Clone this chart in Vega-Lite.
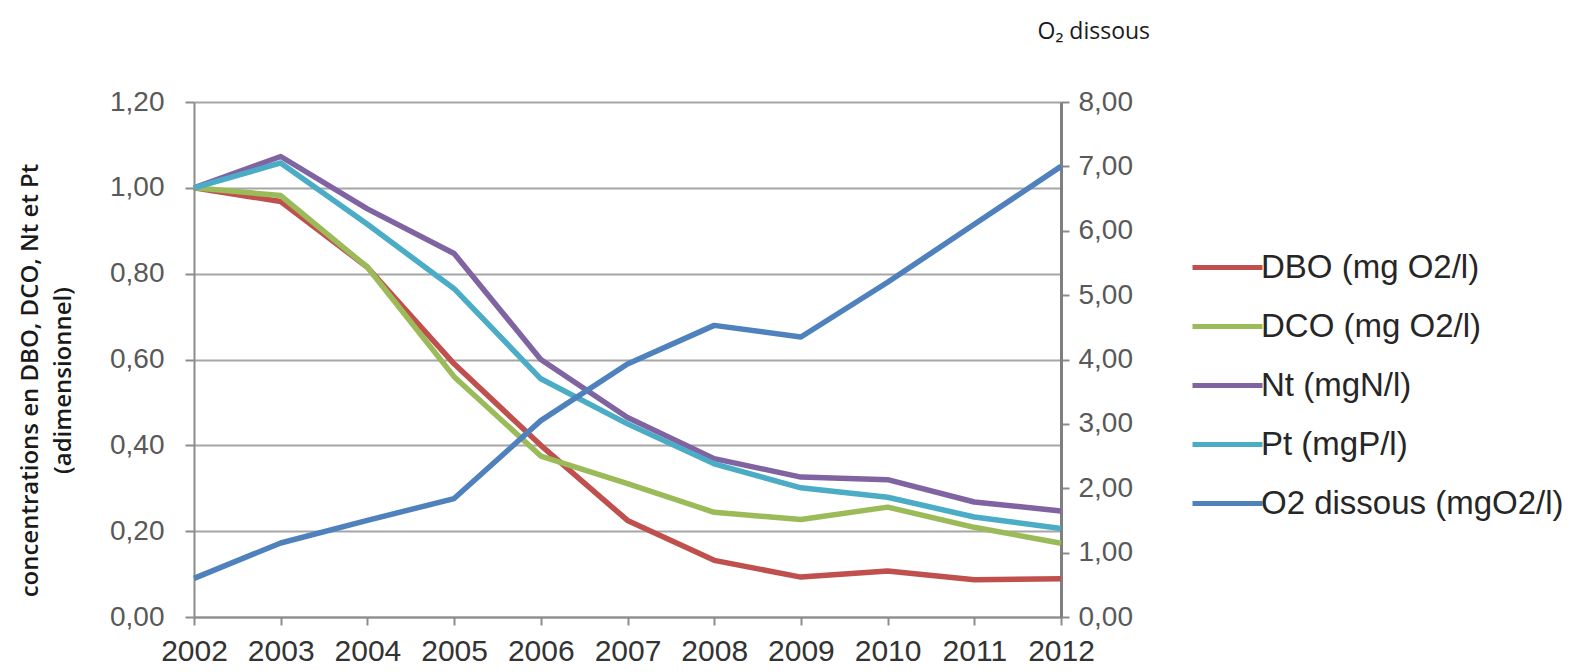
{
  "$schema": "https://vega.github.io/schema/vega-lite/v6.json",
  "width": 867,
  "height": 515,
  "autosize": {"type": "none"},
  "padding": {"left": 194, "top": 102, "right": 519, "bottom": 55},
  "background": "white",
  "config": {"view": {"stroke": null}},
  "data": {
    "values": [
      {"year": 2002, "series": "DBO (mg O2/l)", "value": 1.0},
      {"year": 2003, "series": "DBO (mg O2/l)", "value": 0.968},
      {"year": 2004, "series": "DBO (mg O2/l)", "value": 0.815},
      {"year": 2005, "series": "DBO (mg O2/l)", "value": 0.59},
      {"year": 2006, "series": "DBO (mg O2/l)", "value": 0.40},
      {"year": 2007, "series": "DBO (mg O2/l)", "value": 0.225},
      {"year": 2008, "series": "DBO (mg O2/l)", "value": 0.132},
      {"year": 2009, "series": "DBO (mg O2/l)", "value": 0.093},
      {"year": 2010, "series": "DBO (mg O2/l)", "value": 0.107},
      {"year": 2011, "series": "DBO (mg O2/l)", "value": 0.087},
      {"year": 2012, "series": "DBO (mg O2/l)", "value": 0.089},
      {"year": 2002, "series": "DCO (mg O2/l)", "value": 1.0},
      {"year": 2003, "series": "DCO (mg O2/l)", "value": 0.982},
      {"year": 2004, "series": "DCO (mg O2/l)", "value": 0.815},
      {"year": 2005, "series": "DCO (mg O2/l)", "value": 0.56},
      {"year": 2006, "series": "DCO (mg O2/l)", "value": 0.375},
      {"year": 2007, "series": "DCO (mg O2/l)", "value": 0.311},
      {"year": 2008, "series": "DCO (mg O2/l)", "value": 0.244},
      {"year": 2009, "series": "DCO (mg O2/l)", "value": 0.227},
      {"year": 2010, "series": "DCO (mg O2/l)", "value": 0.256},
      {"year": 2011, "series": "DCO (mg O2/l)", "value": 0.209},
      {"year": 2012, "series": "DCO (mg O2/l)", "value": 0.172},
      {"year": 2002, "series": "Nt (mgN/l)", "value": 1.0},
      {"year": 2003, "series": "Nt (mgN/l)", "value": 1.073},
      {"year": 2004, "series": "Nt (mgN/l)", "value": 0.951},
      {"year": 2005, "series": "Nt (mgN/l)", "value": 0.847},
      {"year": 2006, "series": "Nt (mgN/l)", "value": 0.60},
      {"year": 2007, "series": "Nt (mgN/l)", "value": 0.465},
      {"year": 2008, "series": "Nt (mgN/l)", "value": 0.369},
      {"year": 2009, "series": "Nt (mgN/l)", "value": 0.326},
      {"year": 2010, "series": "Nt (mgN/l)", "value": 0.320},
      {"year": 2011, "series": "Nt (mgN/l)", "value": 0.268},
      {"year": 2012, "series": "Nt (mgN/l)", "value": 0.247},
      {"year": 2002, "series": "Pt (mgP/l)", "value": 1.0},
      {"year": 2003, "series": "Pt (mgP/l)", "value": 1.058},
      {"year": 2004, "series": "Pt (mgP/l)", "value": 0.915},
      {"year": 2005, "series": "Pt (mgP/l)", "value": 0.765},
      {"year": 2006, "series": "Pt (mgP/l)", "value": 0.555},
      {"year": 2007, "series": "Pt (mgP/l)", "value": 0.45},
      {"year": 2008, "series": "Pt (mgP/l)", "value": 0.357},
      {"year": 2009, "series": "Pt (mgP/l)", "value": 0.301},
      {"year": 2010, "series": "Pt (mgP/l)", "value": 0.279},
      {"year": 2011, "series": "Pt (mgP/l)", "value": 0.233},
      {"year": 2012, "series": "Pt (mgP/l)", "value": 0.206},
      {"year": 2002, "series": "O2 dissous (mgO2/l)", "value": 0.6},
      {"year": 2003, "series": "O2 dissous (mgO2/l)", "value": 1.15},
      {"year": 2004, "series": "O2 dissous (mgO2/l)", "value": 1.5},
      {"year": 2005, "series": "O2 dissous (mgO2/l)", "value": 1.84},
      {"year": 2006, "series": "O2 dissous (mgO2/l)", "value": 3.05},
      {"year": 2007, "series": "O2 dissous (mgO2/l)", "value": 3.93},
      {"year": 2008, "series": "O2 dissous (mgO2/l)", "value": 4.53},
      {"year": 2009, "series": "O2 dissous (mgO2/l)", "value": 4.35},
      {"year": 2010, "series": "O2 dissous (mgO2/l)", "value": 5.2},
      {"year": 2011, "series": "O2 dissous (mgO2/l)", "value": 6.1},
      {"year": 2012, "series": "O2 dissous (mgO2/l)", "value": 7.0}
    ]
  },
  "encoding": {
    "x": {
      "field": "year",
      "type": "quantitative",
      "scale": {"domain": [2002, 2012], "nice": false, "zero": false},
      "axis": {
        "values": [2002, 2003, 2004, 2005, 2006, 2007, 2008, 2009, 2010, 2011, 2012],
        "format": "d",
        "title": null,
        "grid": false,
        "domainColor": "#8c8c8c",
        "domainWidth": 2,
        "tickColor": "#8c8c8c",
        "tickWidth": 2,
        "tickSize": 8,
        "labelFont": "Liberation Sans",
        "labelFontSize": 30,
        "labelColor": "#333333",
        "labelPadding": 11,
        "labelFlush": false
      }
    }
  },
  "layer": [
    {
      "transform": [{"filter": "datum.series !== 'O2 dissous (mgO2/l)'"}],
      "mark": {"type": "line", "strokeWidth": 5.5, "strokeJoin": "round"},
      "encoding": {
        "y": {
          "field": "value",
          "type": "quantitative",
          "scale": {"domain": [0, 1.2], "nice": false},
          "axis": {
            "values": [0, 0.2, 0.4, 0.6, 0.8, 1.0, 1.2],
            "labelExpr": "replace(format(datum.value, '.2f'), '.', ',')",
            "grid": true,
            "gridColor": "#a6a6a6",
            "gridWidth": 2,
            "domainColor": "#8c8c8c",
            "domainWidth": 2,
            "tickColor": "#8c8c8c",
            "tickWidth": 2,
            "tickSize": 9,
            "labelFont": "Liberation Sans",
            "labelFontSize": 28,
            "labelColor": "#595959",
            "labelPadding": 21,
            "title": ["concentrations en DBO, DCO, Nt et Pt", "(adimensionnel)"],
            "titleFont": "Open Sans",
            "titleFontWeight": 600,
            "titleFontSize": 24,
            "titleLineHeight": 33,
            "titleColor": "#1a1a1a",
            "titleAngle": -90,
            "titleAlign": "center",
            "titleBaseline": "alphabetic",
            "titleX": -157,
            "titleY": 278
          }
        },
        "color": {
          "field": "series",
          "type": "nominal",
          "sort": ["DBO (mg O2/l)", "DCO (mg O2/l)", "Nt (mgN/l)", "Pt (mgP/l)", "O2 dissous (mgO2/l)"],
          "scale": {
            "domain": ["DBO (mg O2/l)", "DCO (mg O2/l)", "Nt (mgN/l)", "Pt (mgP/l)", "O2 dissous (mgO2/l)"],
            "range": ["#c0504d", "#9bbb59", "#8064a2", "#4bacc6", "#4f81bd"]
          },
          "legend": {
            "orient": "none",
            "legendX": 996,
            "legendY": 128,
            "title": null,
            "symbolType": "stroke",
            "symbolStrokeWidth": 5,
            "symbolSize": 4900,
            "labelFont": "Liberation Sans",
            "labelFontSize": 33,
            "labelColor": "#262626",
            "labelOffset": -4,
            "labelLimit": 500,
            "rowPadding": 4
          }
        }
      }
    },
    {
      "transform": [{"filter": "datum.series === 'O2 dissous (mgO2/l)'"}],
      "mark": {"type": "line", "strokeWidth": 5.5, "strokeJoin": "round"},
      "encoding": {
        "y": {
          "field": "value",
          "type": "quantitative",
          "scale": {"domain": [0, 8], "nice": false},
          "axis": {
            "orient": "right",
            "values": [0, 1, 2, 3, 4, 5, 6, 7, 8],
            "labelExpr": "replace(format(datum.value, '.2f'), '.', ',')",
            "grid": false,
            "domainColor": "#7f7f7f",
            "domainWidth": 3,
            "tickColor": "#8c8c8c",
            "tickWidth": 2,
            "tickSize": 8,
            "labelFont": "Liberation Sans",
            "labelFontSize": 28,
            "labelColor": "#595959",
            "labelPadding": 9,
            "title": "O₂ dissous",
            "titleFont": "Open Sans",
            "titleFontWeight": "normal",
            "titleFontSize": 23,
            "titleColor": "#1a1a1a",
            "titleAngle": 0,
            "titleAlign": "left",
            "titleBaseline": "alphabetic",
            "titleX": -24,
            "titleY": -64
          }
        },
        "color": {
          "field": "series",
          "type": "nominal",
          "sort": ["DBO (mg O2/l)", "DCO (mg O2/l)", "Nt (mgN/l)", "Pt (mgP/l)", "O2 dissous (mgO2/l)"],
          "scale": {
            "domain": ["DBO (mg O2/l)", "DCO (mg O2/l)", "Nt (mgN/l)", "Pt (mgP/l)", "O2 dissous (mgO2/l)"],
            "range": ["#c0504d", "#9bbb59", "#8064a2", "#4bacc6", "#4f81bd"]
          }
        }
      }
    }
  ],
  "resolve": {"scale": {"y": "independent"}}
}
